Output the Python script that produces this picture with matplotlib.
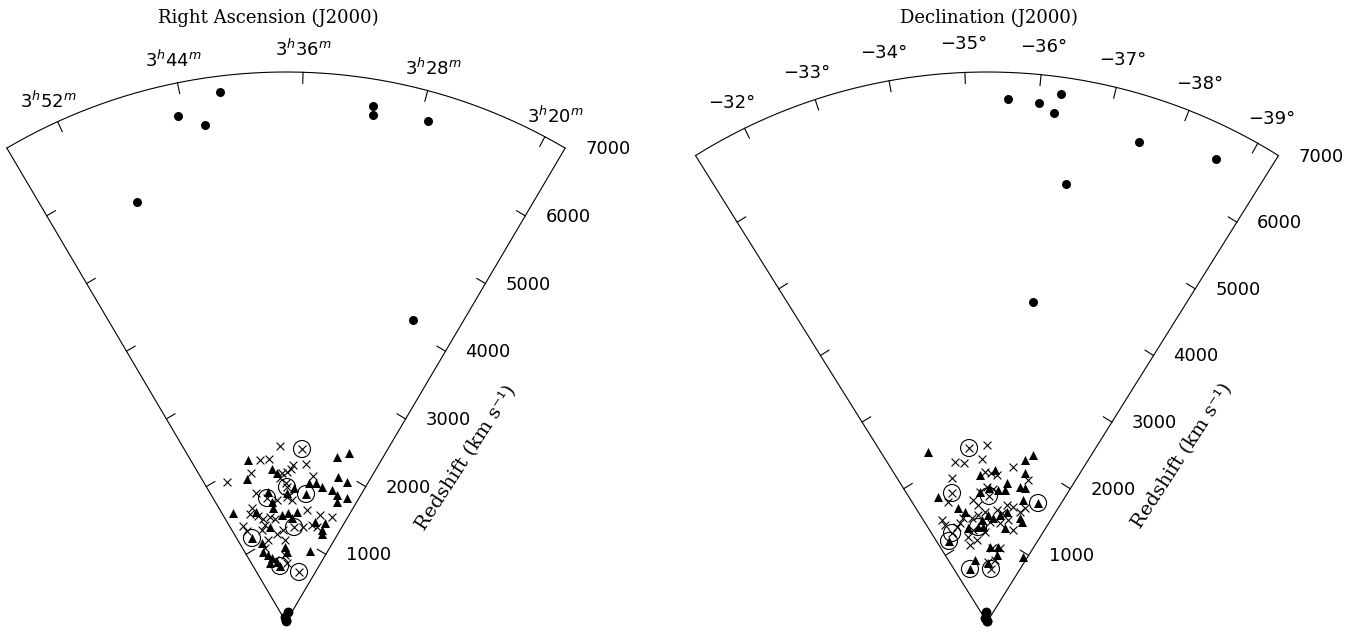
import numpy as np
import matplotlib.pyplot as plt

# ---------------------------------------------------------------
# data : left wedge -> RA (minutes after 3h), velocity (km/s)
#        right wedge -> Dec (deg), velocity (km/s)
# ---------------------------------------------------------------

# background galaxies (filled circles)
ra_bg = [41.40, 44.41, 42.71, 31.26, 31.16, 27.46, 48.96, 23.21]
v_ra_bg = [6798, 6585, 6409, 6660, 6547, 6627, 5672, 4170]
dec_bg = [-35.58, -36.01, -36.29, -36.23, -37.50, -38.60, -36.58, -36.32]
v_dec_bg = [6662, 6639, 6786, 6534, 6408, 6574, 5665, 4115]

# foreground galaxies close to the apex
ra_fg = [30.4, 45.0, 40.0, 36.0]
v_ra_fg = [130, 60, 25, 10]
dec_fg = [-34.4, -32.5, -35.6, -35.0]
v_dec_fg = [125, 60, 15, 8]

# cluster members, crosses
ra_x = [38.27, 42.63, 40.70, 35.53, 32.69, 38.02, 36.85, 35.94, 45.12, 30.71,
        50.98, 38.53, 37.08, 45.04, 36.80, 35.36, 39.65, 47.18, 48.29, 46.08,
        44.74, 42.35, 40.79, 30.62, 26.36, 22.69, 27.96, 51.76, 51.19, 45.97,
        38.22, 40.63, 30.91, 44.61, 37.51, 46.72, 43.20, 37.60, 36.49, 26.09,
        44.51]
v_ra_x = [2241, 2088, 2086, 2000, 2027, 1897, 1909, 1948, 1948, 1890,
          1934, 1834, 1769, 1685, 1591, 1554, 1557, 1514, 1449, 1395,
          1343, 1352, 1318, 1450, 1429, 1459, 1278, 1339, 1260, 1210,
          1172, 1126, 1228, 1069, 1044, 979, 802, 853, 751, 1272,
          1263]
dec_x = [-35.29, -33.87, -34.25, -35.07, -36.49, -33.57, -35.19, -35.48, -35.78, -37.32,
         -35.29, -34.90, -35.61, -33.03, -34.47, -34.74, -36.51, -36.89, -37.61, -35.16,
         -35.93, -36.28, -33.65, -34.26, -34.69, -32.30, -32.35, -33.37, -35.51, -36.23,
         -36.75, -37.27, -37.39, -33.70, -34.42, -33.72, -35.13, -35.78, -36.54, -35.41,
         -36.21, -33.09, -34.20]
v_dec_x = [2253, 2077, 2045, 2076, 2001, 1886, 1909, 1897, 1875, 1881,
           1718, 1657, 1694, 1606, 1563, 1493, 1511, 1501, 1530, 1400,
           1431, 1400, 1358, 1337, 1367, 1419, 1345, 1306, 1273, 1271,
           1325, 1217, 1462, 1109, 1051, 1004, 1146, 944, 956, 764,
           796, 1268, 1185]

# cluster members, triangles
ra_tri = [45.11, 26.63, 24.65, 40.26, 39.18, 46.36, 25.08, 22.76, 31.36, 29.67,
          28.00, 35.00, 25.40, 23.77, 21.14, 23.08, 41.87, 41.13, 36.81, 52.85,
          46.36, 41.04, 38.38, 36.44, 33.61, 35.07, 27.24, 24.00, 24.08, 23.55,
          42.90, 47.36, 48.14, 46.23, 44.59, 46.31, 42.27, 37.54, 36.58, 25.72]
v_ra_tri = [2118, 2198, 2296, 1955, 1900, 1886, 1960, 1944, 1793, 1810,
            1778, 1708, 1779, 1742, 1759, 1660, 1670, 1537, 1642, 1543,
            1451, 1460, 1363, 1387, 1407, 1326, 1325, 1354, 1257, 1210,
            1226, 1051, 938, 883, 834, 778, 772, 955, 891, 954]
dec_tri = [-32.88, -36.95, -37.23, -34.95, -35.67, -37.09, -36.32, -37.02, -37.28, -34.90,
           -35.89, -36.27, -35.40, -32.60, -33.50, -33.87, -35.36, -35.71, -34.94, -36.16,
           -36.59, -37.50, -37.72, -37.36, -33.85, -34.99, -36.65, -35.58, -36.34, -36.36,
           -38.94, -33.91, -35.41]
v_dec_tri = [2291, 2118, 2204, 1873, 1937, 1957, 1787, 1769, 1773, 1657,
             1686, 1695, 1706, 1709, 1497, 1428, 1362, 1326, 1300, 1372,
             1423, 1389, 1348, 1619, 1221, 1210, 1218, 955, 965, 862,
             946, 804, 751]

# circled objects (inner symbol: 'x' or '^')
ra_circ = [33.87, 36.82, 42.38, 31.68, 34.15, 50.49, 40.80, 28.22]
v_ra_circ = [2211, 1718, 1596, 1649, 1213, 1153, 717, 658]
sym_ra_circ = ['x', 'x', 'x', '^', 'x', '^', '^', 'x']
dec_circ = [-34.55, -33.38, -35.40, -38.21, -32.59, -32.13, -34.61, -33.05, -35.83]
v_dec_circ = [2226, 1701, 1604, 1648, 1217, 1139, 1214, 709, 677]
sym_dec_circ = ['x', 'x', 'x', '^', 'x', '^', '^', '^', 'x']

# axis labels
ra_ticks = [52, 44, 36, 28, 20]
ra_labels = [r'$3^{h}%d^{m}$' % m for m in ra_ticks]
dec_ticks = [-32, -33, -34, -35, -36, -37, -38, -39]
dec_labels = ['\u2212%d\u00b0' % abs(d) for d in dec_ticks]
v_ticks = [1000, 2000, 3000, 4000, 5000, 6000, 7000]

VMAX = 7000.
KPX = VMAX / 550.      # km/s per pixel

# wedge geometry (display angle in deg, clockwise from vertical)
RA0, RA_SCALE, RA_HALF = 37.08, 1.644, 30.5
DEC0, DEC_SCALE, DEC_HALF = -35.29, 7.95, 32.0


def ra_ang(ra):
    return (RA0 - np.asarray(ra, float)) * RA_SCALE


def dec_ang(dec):
    return (DEC0 - np.asarray(dec, float)) * DEC_SCALE


def polar(ang, v):
    t = np.radians(ang)
    v = np.asarray(v, float)
    return v * np.sin(t), v * np.cos(t)


def draw_wedge(ax, half, tick_ang, tick_lab, title, zlab, lab_r):
    lw = 0.8
    for s in (-1, 1):
        x, y = polar(s * half, np.array([0, VMAX]))
        ax.plot(x, y, color='k', lw=lw)
    tt = np.linspace(-half, half, 300)
    x, y = polar(tt, VMAX)
    ax.plot(x, y, color='k', lw=lw)

    # velocity ticks on both edges
    L = 10 * KPX
    for v in v_ticks[:-1]:
        for s in (-1, 1):
            t = np.radians(s * half)
            x0, y0 = polar(s * half, v)
            nx, ny = -s * np.cos(t), s * np.sin(t)
            ax.plot([x0, x0 + L * nx], [y0, y0 + L * ny], color='k', lw=lw)
    for v in v_ticks:
        x0, y0 = polar(half, v)
        ax.text(x0 + 20 * KPX, y0 - 1 * KPX, '%d' % v, ha='left', va='center',
                fontsize=13, family='DejaVu Sans')

    # angular ticks on the arc
    for a, lab in zip(tick_ang, tick_lab):
        x0, y0 = polar(a, VMAX)
        x1, y1 = polar(a, VMAX - 11 * KPX)
        ax.plot([x0, x1], [y0, y1], color='k', lw=lw)
        xl, yl = polar(a, lab_r * KPX)
        ax.text(xl, yl, lab, ha='center', va='center', fontsize=13,
                family='DejaVu Sans')

    ax.text(*title[1], title[0], transform=ax.transAxes, ha='center',
            va='center', fontsize=13, family='DejaVu Serif')
    ax.text(*zlab, 'Redshift (km s\u207b\u00b9)', transform=ax.transAxes,
            rotation=57, ha='center', va='center', fontsize=14,
            family='DejaVu Serif')


def draw_points(ax, ang_fn, bg, fg, xs, tri, circ):
    x, y = polar(ang_fn(bg[0]), bg[1])
    ax.scatter(x, y, s=42, c='k', marker='o', lw=0, zorder=3)
    x, y = polar(ang_fn(fg[0]), fg[1])
    ax.scatter(x, y, s=50, c='k', marker='o', lw=0, zorder=3)
    x, y = polar(ang_fn(xs[0]), xs[1])
    ax.scatter(x, y, s=32, c='k', marker='x', lw=0.8, zorder=3)
    x, y = polar(ang_fn(tri[0]), tri[1])
    ax.scatter(x, y, s=42, c='k', marker='^', lw=0, zorder=3)
    x, y = polar(ang_fn(circ[0]), circ[1])
    ax.scatter(x, y, s=150, facecolors='none', edgecolors='k', marker='o',
               lw=0.8, zorder=3)
    for xi, yi, m in zip(x, y, circ[2]):
        if m == 'x':
            ax.scatter(xi, yi, s=32, c='k', marker='x', lw=0.8, zorder=3)
        else:
            ax.scatter(xi, yi, s=42, c='k', marker='^', lw=0, zorder=3)


W, H = 1366, 634
fig = plt.figure(figsize=(W / 100., H / 100.), dpi=100)

apex_y = 12
# left : Right Ascension
axl = fig.add_axes([0, 0, 683. / W, 1])
axl.set_xlim(-286 * KPX, (683 - 286) * KPX)
axl.set_ylim(-apex_y * KPX, (H - apex_y) * KPX)
axl.axis('off')
draw_wedge(axl, RA_HALF, ra_ang(ra_ticks), ra_labels,
           ('Right Ascension (J2000)', (268. / 683, 1 - 18. / H)),
           (466. / 683, 1 - 458. / H), 573)
draw_points(axl, ra_ang, (ra_bg, v_ra_bg), (ra_fg, v_ra_fg), (ra_x, v_ra_x),
            (ra_tri, v_ra_tri), (ra_circ, v_ra_circ, sym_ra_circ))

# right : Declination
axr = fig.add_axes([683. / W, 0, 683. / W, 1])
axr.set_xlim(-(987 - 683) * KPX, (W - 987) * KPX)
axr.set_ylim(-apex_y * KPX, (H - apex_y) * KPX)
axr.axis('off')
draw_wedge(axr, DEC_HALF, dec_ang(dec_ticks), dec_labels,
           ('Declination (J2000)', ((989. - 683) / 683, 1 - 18. / H)),
           ((1182. - 683) / 683, 1 - 456. / H), 578)
draw_points(axr, dec_ang, (dec_bg, v_dec_bg), (dec_fg, v_dec_fg),
            (dec_x, v_dec_x), (dec_tri, v_dec_tri),
            (dec_circ, v_dec_circ, sym_dec_circ))

fig.savefig('out.png', dpi=100)
